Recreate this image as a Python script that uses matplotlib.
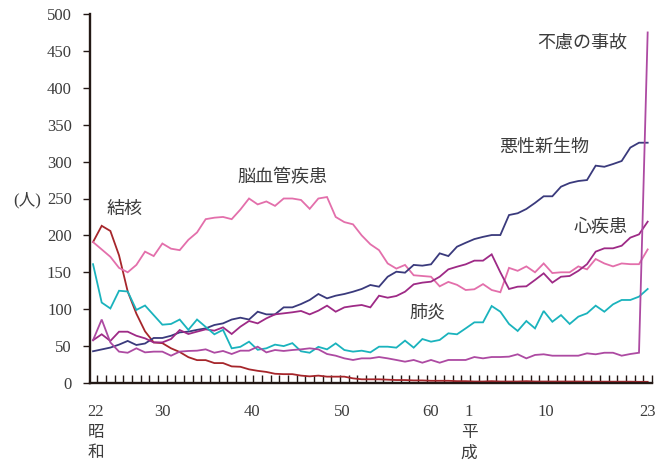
import matplotlib
matplotlib.use('Agg')
import matplotlib.pyplot as plt

years = list(range(1947, 2012))

tuberculosis = [191, 213, 206, 173, 124, 94, 70, 55, 54, 47,
                42, 35, 31, 31, 27, 27, 22.5, 22, 18.5, 16.5,
                15, 12.5, 12, 12, 10, 9, 10, 8.6, 8.6, 8.6,
                6.3, 5, 5, 5, 4.5, 4, 4, 3.5, 3.5, 3,
                3, 3, 2.5, 2.5, 2, 2, 2.5, 2, 2, 2,
                2.5, 2, 2, 2, 2, 2, 2, 1.8, 1.8, 1.8,
                1.8, 1.8, 1.8, 1.6, 1.6]

stroke = [191, 181, 171, 156, 150, 160, 178, 172, 189, 182,
          180, 194, 204, 222, 224, 225, 222, 235, 250, 242,
          246, 240, 250, 250, 248, 236, 250, 252, 225, 218,
          215, 200, 188, 180, 162, 155, 160, 146, 145, 144,
          131, 137, 133, 126, 127, 134, 126, 123, 156, 152,
          158, 150, 162, 149, 150, 150, 158, 154, 168, 162,
          158, 162, 161, 161, 181]

cancer = [43, 45.5, 48, 52, 57, 51.5, 53.5, 61, 61, 64,
          68.6, 69.6, 72, 74, 78.6, 80.8, 86, 88.5, 86, 96.6,
          93, 93, 102.5, 102.5, 107, 112.5, 120.6, 114.7, 118.3, 120.6,
          123.7, 127.4, 132.8, 130.5, 144, 150.8, 149.5, 160, 159, 160.8,
          175.7, 172, 184.7, 190, 195, 198, 200.5, 200.5, 227.6, 230,
          235.8, 244, 253, 253, 266, 271, 273.7, 275, 294.5, 293,
          296.7, 300.8, 319, 325.6, 325.6]

heart = [58, 66, 57, 69.5, 69.5, 64, 60.5, 55, 55, 59.6,
         71.8, 66.4, 69.6, 72.7, 70.9, 75.4, 66.4, 76.3, 84, 80.8,
         87.6, 93, 94.4, 95.8, 97.6, 93, 98, 104.8, 96.6, 102.5,
         104.3, 105.7, 102.5, 118.3, 115.6, 117.9, 123.7, 133.7, 136, 137.3,
         144, 154, 157.6, 160.8, 165.8, 165.8, 174.3, 150, 127.4, 130.5,
         131, 139.6, 148.6, 136, 144, 145, 152, 161, 178, 182.5,
         182.5, 186, 197, 201.4, 218.6]

pneumonia = [161, 109, 101, 125, 124, 99, 105, 92, 79, 80,
             86, 72, 86, 76, 66, 72, 47, 49, 56, 45,
             47, 52, 50, 54, 43, 41, 49, 45.6, 53.7, 44.7,
             42.5, 43.8, 41.5, 49.2, 49.2, 47.9, 57.4, 47.9, 59.6, 56,
             58.3, 67.3, 66, 74, 82.2, 82.2, 104.3, 96.6, 80, 70.5,
             84, 74, 97.6, 83, 92, 80, 89.9, 94.4, 104.8, 96.6,
             106.6, 112.5, 112.5, 117, 127.4]

accident = [58, 86, 55, 42.5, 41, 47, 41.5, 42.5, 42.5, 37,
            42.5, 43.4, 43.8, 45.6, 41, 43.4, 39.3, 43.8, 43.8, 49.2,
            41.5, 44.7, 43.4, 44.7, 45.6, 47, 45.6, 39.3, 37, 33.4,
            31.2, 33.4, 33.4, 35.2, 33.4, 31.2, 28.9, 31.2, 27.5, 31.2,
            27.5, 31.2, 31.2, 31.2, 35.2, 33.4, 35.2, 35.2, 35.7, 38.9,
            33.4, 38, 38.9, 37, 37, 37, 37, 40.2, 38.9, 41,
            41, 37, 39.3, 41, 475]

series_names = ['結核', '脳血管疾患', '悪性新生物', '心疾患', '肺炎', '不慮の事故']
series_values = [tuberculosis, stroke, cancer, heart, pneumonia, accident]
series_colors = ['#a6262b', '#e36fab', '#3a3a7c', '#9e2a86', '#1ab3bd', '#ad4aa2']

# label anchor positions (year, value)
label_x = [1950.6, 1968.8, 1999.1, 2005.6, 1985.6, 2003.5]
label_y = [236, 279, 320, 213, 96, 461]

tick_labels = ['22\n昭\n和', '30', '40', '50', '60', '1\n平\n成', '10', '23']
tick_pos = [1947.3, 1955, 1965.3, 1975.7, 1985.9, 1990.4, 1999.2, 2011]

yticks = list(range(0, 501, 50))

FONT = ['Liberation Serif', 'Noto Sans CJK JP']
JP = ['Noto Sans CJK JP']
TXT = '#3c3c3c'
AXC = '#231815'

plt.rcParams['font.family'] = FONT

fig = plt.figure(figsize=(6.7, 4.62), dpi=100)
ax = fig.add_axes([90/670, 79/462, 562/670, 369/462])

for vals, col in zip(series_values, series_colors):
    ax.plot(years, vals, color=col, lw=1.3, solid_joinstyle='miter', clip_on=False)

ax.set_xlim(1946.65, 2011.5)
ax.set_ylim(0, 500)

for s in ['top', 'right']:
    ax.spines[s].set_visible(False)
for s in ['left', 'bottom']:
    ax.spines[s].set_color(AXC)
    ax.spines[s].set_linewidth(1.7)

ax.set_xticks([y + 0.5 for y in years], minor=True)
ax.set_xticks(tick_pos, labels=tick_labels)
ax.tick_params(axis='x', which='minor', direction='in', length=6, width=1.0, color=AXC)
ax.tick_params(axis='x', which='major', length=0, pad=15, labelsize=12, labelcolor=TXT)
for t in ax.get_xticklabels():
    t.set_verticalalignment('top')
    t.set_linespacing(1.4)

ax.set_yticks(yticks)
ax.tick_params(axis='y', direction='out', length=5, width=1.0, color=AXC,
               pad=8, labelsize=12, labelcolor=TXT)

for name, x, y in zip(series_names, label_x, label_y):
    ax.text(x, y, name, ha='center', va='center', fontsize=13, color=TXT, family=JP)

fig.text(27/670, 1 - 200/462, '(人)', ha='center', va='center', fontsize=12, color=TXT)

fig.savefig('out.png', dpi=100)
